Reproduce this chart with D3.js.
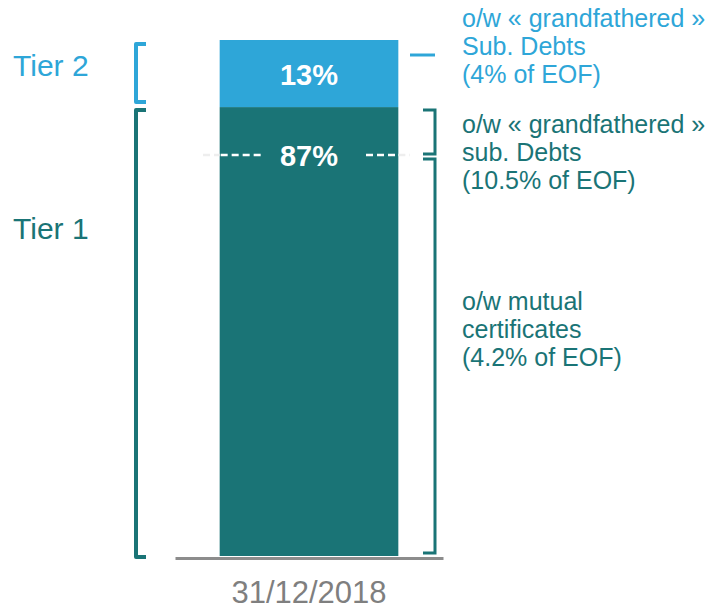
<!DOCTYPE html>
<html>
<meta http-equiv="content-type" content="text/html; charset=utf-8" />
<head>
  <title>Own funds split</title>
</head>
<style>
body { margin: 0; background: #fff; }
svg text { font-family: "Liberation Sans", Arial, sans-serif; }
.axis path { stroke: #8c8c8c; stroke-width: 3; }
.axis text { fill: #7f7f7f; font-size: 31px; }
</style>
<body>
<svg class="chart"></svg>
<script src="https://cdn.jsdelivr.net/npm/d3@7"></script>
<script>
// data
var dates = ["31/12/2018"];
var tiers = ["Tier 1", "Tier 2"];
var tierValues = [87, 13];
var tierColors = ["#1a7476", "#2ea6d8"];
// split point inside tier 1 between the two annotations (chart units)
var tier1Split = 77.5;
var tier2Notes = ["o/w « grandfathered »", "Sub. Debts", "(4% of EOF)"];
var tier1NotesTop = ["o/w « grandfathered »", "sub. Debts", "(10.5% of EOF)"];
var tier1NotesBottom = ["o/w mutual", "certificates", "(4.2% of EOF)"];

var width = 709, height = 612;

var svg = d3.select(".chart")
  .attr("width", width)
  .attr("height", height);

var x = d3.scaleBand()
  .domain(dates)
  .range([175, 443])
  .padding(0.2);

var y = d3.scaleLinear()
  .domain([0, 100])
  .range([556, 40]);

// stack the tiers
var stack = [];
var acc = 0;
tierValues.forEach(function(v, i) {
  stack.push({name: tiers[i], value: v, y0: acc, y1: acc + v, color: tierColors[i]});
  acc += v;
});

svg.selectAll(".bar")
  .data(stack).enter()
  .append("rect")
  .attr("class", "bar")
  .attr("x", x(dates[0]))
  .attr("width", x.bandwidth())
  .attr("y", function(d) { return y(d.y1); })
  .attr("height", function(d) { return y(d.y0) - y(d.y1); })
  .attr("fill", function(d) { return d.color; });

// x axis
svg.append("g")
  .attr("class", "axis")
  .attr("transform", "translate(0," + (y(0) + 2) + ")")
  .call(d3.axisBottom(x).tickSize(0).tickPadding(23))
  .call(function(g) { g.selectAll(".tick line").remove(); });

// dashed guide through the 87% label
var labelY1 = y(tierValues[0]) + 48;
var bx0 = x(dates[0]), bx1 = x(dates[0]) + x.bandwidth();
var cx = bx0 + x.bandwidth() / 2;
function dashSeg(xa, xb, color) {
  svg.append("line")
    .attr("x1", xa).attr("x2", xb)
    .attr("y1", labelY1).attr("y2", labelY1)
    .attr("stroke", color)
    .attr("stroke-width", 2.5)
    .attr("stroke-dasharray", "7,4");
}
dashSeg(203, bx0, "#eeeeee");
dashSeg(bx0 + 1, cx - 48, "#ffffff");
dashSeg(cx + 57, bx1, "#ffffff");
dashSeg(bx1, 410, "#eeeeee");

// value labels
svg.selectAll(".val")
  .data(stack).enter()
  .append("text")
  .attr("class", "val")
  .attr("x", cx)
  .attr("y", function(d, i) { return i === 1 ? (y(d.y1) + y(d.y0)) / 2 + 11 : labelY1 + 11; })
  .attr("text-anchor", "middle")
  .attr("fill", "#fff")
  .style("font-size", "29px")
  .style("font-weight", "bold")
  .text(function(d) { return d.value + "%"; });

// left brackets and tier names
function leftBracket(ya, yb, color) {
  var xl = 136, xr = 146;
  svg.append("path")
    .attr("d", "M" + xr + "," + ya + "H" + xl + "V" + yb + "H" + xr)
    .attr("fill", "none")
    .attr("stroke", color)
    .attr("stroke-width", 4)
    .attr("stroke-linejoin", "round");
}
leftBracket(y(stack[1].y1) + 4, y(stack[1].y0) - 5, tierColors[1]);
leftBracket(y(stack[0].y1) + 3, y(stack[0].y0) + 1, tierColors[0]);

svg.append("text").attr("x", 13).attr("y", 76)
  .attr("fill", tierColors[1]).style("font-size", "30px").text(tiers[1]);
svg.append("text").attr("x", 13).attr("y", 239)
  .attr("fill", tierColors[0]).style("font-size", "30px").text(tiers[0]);

// right brackets
svg.append("line")
  .attr("x1", 410).attr("x2", 435)
  .attr("y1", 55).attr("y2", 55)
  .attr("stroke", tierColors[1]).attr("stroke-width", 3);

function rightBracket(ya, yb) {
  var xl = 423, xr = 435;
  svg.append("path")
    .attr("d", "M" + xl + "," + ya + "H" + xr + "V" + yb + "H" + xl)
    .attr("fill", "none")
    .attr("stroke", tierColors[0])
    .attr("stroke-width", 3);
}
rightBracket(y(tierValues[0]) + 3, y(tier1Split) - 2);
rightBracket(y(tier1Split) + 3, y(0) - 3);

// notes
function notes(lines, y0, color) {
  svg.append("text")
    .attr("x", 462)
    .attr("y", y0)
    .attr("fill", color)
    .style("font-size", "25px")
    .selectAll("tspan")
    .data(lines).enter()
    .append("tspan")
    .attr("x", 462)
    .attr("dy", function(d, i) { return i === 0 ? 0 : 28; })
    .text(function(d) { return d; });
}
notes(tier2Notes, 27, tierColors[1]);
notes(tier1NotesTop, 133, tierColors[0]);
notes(tier1NotesBottom, 310, tierColors[0]);
</script>
</body>
</html>
